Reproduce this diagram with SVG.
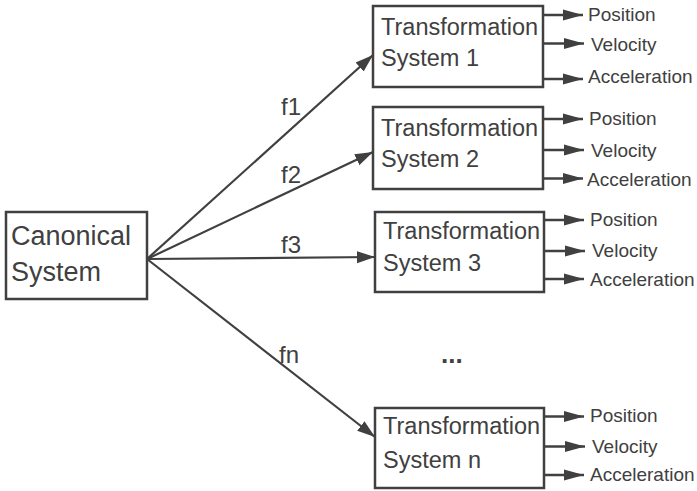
<svg xmlns="http://www.w3.org/2000/svg" width="697" height="491" viewBox="0 0 697 491">
<style>
.box{fill:#fff;stroke:#404040;stroke-width:2.5}
.t{font-family:"Liberation Sans",Arial,sans-serif;fill:#404040}
.big{font-size:27px}
.mid{font-size:23.5px}
.sm{font-size:19px}
.lbl{font-size:24px}
.c{stroke:#404040;stroke-width:2.2;fill:none}
.o{stroke:#404040;stroke-width:2.5;fill:none}
</style>
<defs>
<marker id="ah" markerUnits="userSpaceOnUse" markerWidth="20" markerHeight="14" refX="18" refY="6" orient="auto" viewBox="0 0 20 12">
<path d="M0,0 L18,6 L0,12 z" fill="#404040"/>
</marker>
<marker id="as" markerUnits="userSpaceOnUse" markerWidth="21" markerHeight="12" refX="20" refY="5.5" orient="auto" viewBox="0 0 21 11">
<path d="M0,0 L20,5.5 L0,11 z" fill="#404040"/>
</marker>
</defs>
<g id="connectors">
<line class="c" x1="147" y1="259" x2="373" y2="55" marker-end="url(#ah)"/>
<line class="c" x1="147" y1="259" x2="373" y2="152" marker-end="url(#ah)"/>
<line class="c" x1="147" y1="259" x2="375" y2="257" marker-end="url(#ah)"/>
<line class="c" x1="147" y1="259" x2="375" y2="437" marker-end="url(#ah)"/>
<text class="t lbl" x="281" y="115">f1</text>
<text class="t lbl" x="281" y="183">f2</text>
<text class="t lbl" x="281" y="253">f3</text>
<text class="t lbl" x="279" y="363">fn</text>
<line class="o" x1="543" y1="15" x2="583" y2="15" marker-end="url(#as)"/>
<line class="o" x1="543" y1="43.5" x2="584" y2="43.5" marker-end="url(#as)"/>
<line class="o" x1="543" y1="79" x2="583" y2="79" marker-end="url(#as)"/>
<line class="o" x1="543" y1="119" x2="583" y2="119" marker-end="url(#as)"/>
<line class="o" x1="543" y1="150" x2="584" y2="150" marker-end="url(#as)"/>
<line class="o" x1="543" y1="178.5" x2="583" y2="178.5" marker-end="url(#as)"/>
<line class="o" x1="544" y1="220" x2="584" y2="220" marker-end="url(#as)"/>
<line class="o" x1="544" y1="251" x2="585" y2="251" marker-end="url(#as)"/>
<line class="o" x1="544" y1="279" x2="584" y2="279" marker-end="url(#as)"/>
<line class="o" x1="544" y1="416.5" x2="584" y2="416.5" marker-end="url(#as)"/>
<line class="o" x1="544" y1="446.5" x2="585" y2="446.5" marker-end="url(#as)"/>
<line class="o" x1="544" y1="475" x2="584" y2="475" marker-end="url(#as)"/>
</g>
<g id="canonical">
<rect class="box" x="6" y="212" width="141" height="87"/>
<text class="t big" x="11" y="245">Canonical</text>
<text class="t big" x="11" y="281">System</text>
</g>
<g id="ts1">
<rect class="box" x="373" y="6" width="170" height="81"/>
<text class="t mid" x="381" y="35">Transformation</text>
<text class="t mid" x="381" y="66">System 1</text>
<text class="t sm" x="588" y="21">Position</text>
<text class="t sm" x="591" y="51">Velocity</text>
<text class="t sm" x="588" y="83">Acceleration</text>
</g>
<g id="ts2">
<rect class="box" x="373" y="107" width="170" height="82"/>
<text class="t mid" x="381" y="136">Transformation</text>
<text class="t mid" x="381" y="167">System 2</text>
<text class="t sm" x="589" y="125">Position</text>
<text class="t sm" x="591" y="157">Velocity</text>
<text class="t sm" x="587" y="185.5">Acceleration</text>
</g>
<g id="ts3">
<rect class="box" x="375" y="212" width="169" height="80"/>
<text class="t mid" x="383" y="239">Transformation</text>
<text class="t mid" x="383" y="270.5">System 3</text>
<text class="t sm" x="590" y="226">Position</text>
<text class="t sm" x="592" y="257">Velocity</text>
<text class="t sm" x="590" y="285.5">Acceleration</text>
</g>
<g id="tsn">
<rect class="box" x="375" y="408" width="169" height="80"/>
<text class="t mid" x="383" y="434">Transformation</text>
<text class="t mid" x="383" y="467.5">System n</text>
<text class="t sm" x="590" y="422">Position</text>
<text class="t sm" x="592" y="453">Velocity</text>
<text class="t sm" x="590" y="481">Acceleration</text>
</g>
<g id="ellipsis">
<text class="t" style="font-size:26px;font-weight:bold" x="441" y="363">...</text>
</g>
</svg>
